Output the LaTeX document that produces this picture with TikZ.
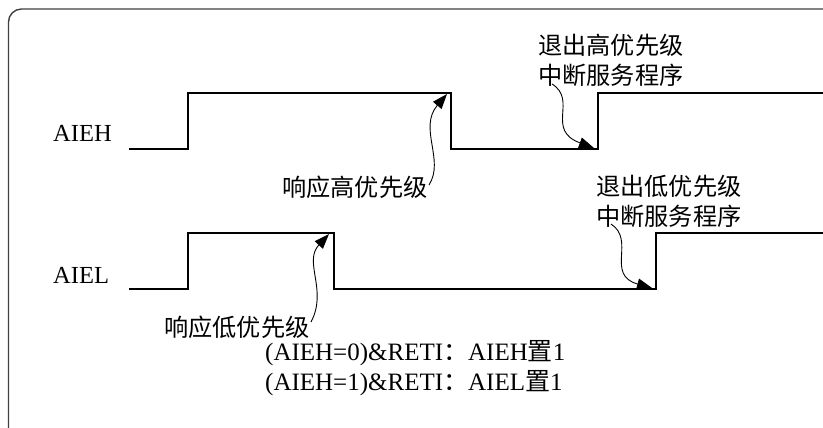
\documentclass[tikz,border=0pt]{standalone}
\usepackage{fontspec}
\setmainfont{Liberation Serif}
\newfontfamily\cjk{Noto Sans CJK SC}
\usetikzlibrary{arrows.meta}
\tikzset{
  wave/.style={line width=1.1pt, black},
  frame/.style={line width=1.4pt, draw=black!75, rounded corners=13pt},
  arr/.style={line width=0.9pt, -{Triangle[length=15pt,width=11pt]}},
  sig/.style={font=\fontsize{24.5}{28}\selectfont, inner sep=0pt, anchor=base west},
  cn/.style={font=\cjk\fontsize{24.2}{30}\selectfont, inner sep=0pt, align=left},
  note/.style={font=\fontsize{25}{30}\selectfont, inner sep=0pt, anchor=base west},
}
\begin{document}
\begin{tikzpicture}[x=1pt,y=-1pt]
\useasboundingbox (0,0) rectangle (823,428);
\draw[frame] (8.5,440) -- (8.5,9) -- (840,9);
% waveforms
\draw[wave] (129,149) -- (188,149) -- (188,93) -- (451,93) -- (451,149) -- (598,149) -- (598,93) -- (830,93);
\draw[wave] (129,289) -- (188,289) -- (188,233) -- (334,233) -- (334,289) -- (656,289) -- (656,233) -- (830,233);
% labels
\node[sig] (lh) at (53,142) {AIEH};
\node[sig] (ll) at (53,283) {AIEL};
% text nodes
\node[cn, anchor=west] (t1) at (282,187) {响应高优先级};
\node[cn, anchor=west] (t2) at (538,60) {退出高优先级\\中断服务程序};
\node[cn, anchor=west] (t3) at (164,327) {响应低优先级};
\node[cn, anchor=west] (t4) at (596,201) {退出低优先级\\中断服务程序};
% target coordinates
\coordinate (c1s) at (429,185);
\coordinate (c1) at (447,94);
\coordinate (c2s) at (552,84);
\coordinate (c2) at (594,148);
\coordinate (c3s) at (311,322);
\coordinate (c3) at (329,234);
\coordinate (c4s) at (611,224);
\coordinate (c4) at (652,288);
\draw[arr] (c1s) .. controls (445,160) and (418,128) .. (c1);
\draw[arr] (c2s) .. controls (578,100) and (545,130) .. (c2);
\draw[arr] (c3s) .. controls (328,290) and (303,262) .. (c3);
\draw[arr] (c4s) .. controls (636,240) and (605,275) .. (c4);
% notes
\node[note] (n1) at (265,360) {(AIEH=0)\&RETI{\cjk ：}AIEH{\cjk 置}1};
\node[note] (n2) at (265,390) {(AIEH=1)\&RETI{\cjk ：}AIEL{\cjk 置}1};
\end{tikzpicture}
\end{document}
